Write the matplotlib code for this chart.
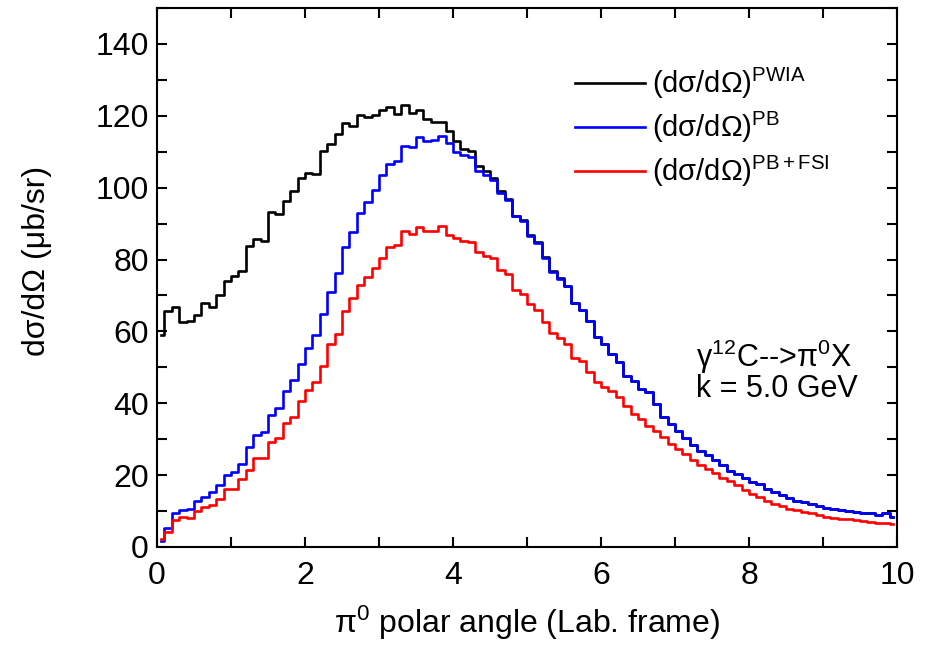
import numpy as np
import matplotlib
matplotlib.use("Agg")
import matplotlib.pyplot as plt
from matplotlib.ticker import MultipleLocator

plt.rcParams['font.family'] = ['Liberation Sans', 'DejaVu Sans']
plt.rcParams['mathtext.fontset'] = 'custom'
plt.rcParams['mathtext.rm'] = 'Liberation Sans'
plt.rcParams['mathtext.it'] = 'Liberation Sans'

# bin centres (0.1 wide bins from 0 to 10)
angle = np.round(np.arange(0.05, 10.0, 0.1), 2)

pwia = [59.1, 65.8, 66.9, 62.5, 62.8, 64.5, 67.8, 66.9, 70.1, 74.1,
        75.3, 76.9, 83.8, 85.7, 85.2, 93.1, 92.8, 96.2, 99.0, 102.6,
        104.2, 103.8, 110.3, 112.2, 114.8, 118.1, 117.1, 120.3, 119.6, 120.3,
        121.6, 122.4, 120.6, 123.0, 120.8, 121.7, 119.1, 118.2, 118.2, 115.7,
        112.9, 110.8, 110.3, 106.1, 104.5, 102.8, 99.1, 96.9, 92.2, 90.9,
        86.9, 85.0, 80.7, 76.8, 74.8, 72.7, 68.0, 65.9, 62.8, 58.4,
        56.6, 53.8, 51.4, 47.7, 46.3, 44.0, 43.1, 39.8, 36.1, 34.2,
        32.4, 30.2, 28.4, 26.8, 25.6, 24.2, 22.8, 21.2, 20.3, 19.1,
        18.1, 17.5, 16.1, 15.3, 14.4, 13.7, 12.8, 12.5, 11.9, 11.4,
        10.9, 10.5, 10.3, 10.0, 9.7, 9.5, 9.4, 8.8, 9.4, 8.4]

pb = [1.7, 5.3, 9.6, 10.4, 10.6, 12.9, 13.8, 15.4, 17.2, 20.0,
      20.9, 23.1, 27.7, 31.2, 31.9, 36.8, 38.8, 43.5, 46.5, 50.9,
      55.4, 58.9, 64.9, 71.0, 76.3, 83.6, 87.8, 92.9, 96.1, 99.4,
      103.4, 106.6, 107.5, 111.5, 111.2, 114.0, 113.1, 113.2, 114.3, 112.4,
      109.9, 109.2, 108.5, 104.7, 103.6, 102.2, 98.5, 96.6, 92.0, 90.7,
      86.6, 84.7, 80.5, 76.6, 74.7, 72.7, 68.0, 65.9, 62.8, 58.4,
      56.6, 53.8, 51.4, 47.7, 46.3, 44.0, 43.1, 39.8, 36.1, 34.2,
      32.4, 30.2, 28.4, 26.8, 25.6, 24.2, 22.8, 21.2, 20.3, 19.1,
      18.1, 17.5, 16.1, 15.3, 14.4, 13.7, 12.8, 12.5, 11.9, 11.4,
      10.9, 10.5, 10.3, 10.0, 9.7, 9.5, 9.4, 8.8, 9.4, 8.4]

pb_fsi = [2.2, 4.1, 7.6, 8.4, 8.1, 10.1, 11.0, 11.8, 13.3, 16.1,
          16.1, 18.9, 21.4, 24.7, 24.7, 29.1, 30.2, 34.4, 36.1, 40.5,
          43.8, 46.0, 50.5, 56.4, 59.4, 65.7, 69.3, 72.9, 75.2, 77.7,
          80.3, 83.4, 84.0, 87.9, 87.0, 89.0, 88.0, 88.0, 89.4, 86.8,
          86.1, 85.2, 85.0, 82.2, 80.9, 80.3, 77.0, 75.9, 71.5, 70.5,
          67.5, 65.9, 62.6, 59.6, 58.2, 56.6, 52.6, 51.7, 48.7, 45.9,
          44.5, 43.5, 41.7, 39.3, 37.0, 35.6, 33.7, 32.4, 30.5, 28.6,
          27.3, 25.8, 24.2, 22.8, 21.6, 20.5, 19.3, 18.4, 17.2, 16.0,
          14.8, 13.8, 12.8, 11.9, 11.4, 10.5, 10.2, 9.7, 9.4, 8.8,
          8.4, 8.1, 7.9, 7.7, 7.5, 7.2, 7.0, 6.8, 6.8, 6.3]

labels = ['(d\u03c3/d\u03a9)$^{\\mathrm{PWIA}}$',
          '(d\u03c3/d\u03a9)$^{\\mathrm{PB}}$',
          '(d\u03c3/d\u03a9)$^{\\mathrm{PB+FSI}}$']
colors = ['black', '#0000ff', '#ff0000']

fig = plt.figure(figsize=(9.32, 6.47), dpi=100)
ax = fig.add_axes([157/932, 1-547/647, 740/932, 539/647])

for ys, c, lab in zip([pwia, pb, pb_fsi], colors, labels):
    ax.step(angle, ys, where='mid', color=c, lw=1.9, label=lab)

ax.set_xlim(0, 10)
ax.set_ylim(0, 150)
ax.xaxis.set_major_locator(MultipleLocator(2))
ax.xaxis.set_minor_locator(MultipleLocator(1))
ax.yaxis.set_minor_locator(MultipleLocator(10))
ax.set_yticks([0, 20, 40, 60, 80, 100, 120, 140])
ax.tick_params(which='both', direction='in', top=True, right=True,
               length=7.5, width=1.5, labelsize=23)
ax.tick_params(axis='x', pad=10)
ax.tick_params(axis='y', pad=6)
for s in ax.spines.values():
    s.set_linewidth(1.5)

ax.set_xlabel('\u03c0$^{\\mathrm{0}}$ polar angle (Lab. frame)', fontsize=23)
ax.xaxis.set_label_coords(0.5, -0.105)
ax.set_ylabel('d\u03c3/d\u03a9 (\u03bcb/sr)', fontsize=23)
ax.yaxis.set_label_coords(-0.142, 0.53)

leg = ax.legend(loc='upper left', bbox_to_anchor=(0.565, 0.892), frameon=False,
                fontsize=21, handlelength=2.4, handletextpad=0.25,
                labelspacing=0.3, borderpad=0, borderaxespad=0)

ax.text(7.28, 53.0, '\u03b3$^{\\mathrm{12}}$C-->\u03c0$^{\\mathrm{0}}$X',
        fontsize=22, va='center', ha='left')
ax.text(7.28, 44.0, 'k = 5.0 GeV', fontsize=22, va='center', ha='left')

fig.savefig('out.png', dpi=100)
